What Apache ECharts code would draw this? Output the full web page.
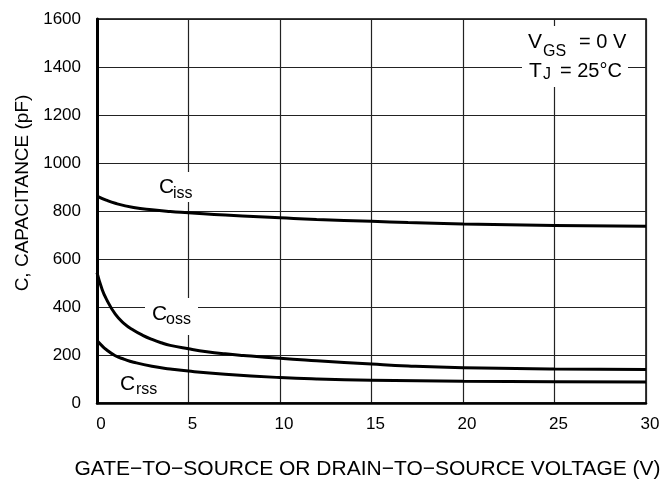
<!DOCTYPE html>
<html>
<head>
<meta charset="utf-8">
<script src="https://cdn.jsdelivr.net/npm/echarts@6/dist/echarts.min.js"></script>
<style>html,body{margin:0;padding:0;background:#fff;}#c{width:666px;height:486px;}</style>
</head>
<body>
<div id="c"></div>
<script>
// Voltage (V) and capacitance (pF)
var cissV = [0, 0.5, 1, 2, 3, 4, 5, 7, 10, 12, 15, 17, 20, 25, 30];
var cissC = [862, 845, 832, 815, 805, 798, 793, 783, 772, 765, 757, 752, 746, 740, 736];
var cossV = [0, 0.25, 0.5, 1, 1.5, 2, 2.5, 3, 3.5, 4, 5, 6, 7, 8, 10, 12, 15, 17, 20, 25, 30];
var cossC = [543, 480, 435, 370, 330, 303, 282, 265, 251, 240, 226, 214, 205, 198, 186, 176, 162, 154, 147, 142, 140];
var crssV = [0, 0.25, 0.5, 1, 1.5, 2, 3, 4, 5, 7, 10, 12, 15, 20, 25, 30];
var crssC = [260, 240, 223, 197, 182, 170, 153, 142, 133, 120, 106, 100, 95, 91, 89, 88];
var xTicks = [0, 5, 10, 15, 20, 25, 30];
var yTicks = [0, 200, 400, 600, 800, 1000, 1200, 1400, 1600];

function pairs(xs, ys) { return xs.map(function (x, i) { return [x, ys[i]]; }); }

var FONT = '"Liberation Sans", Arial, Helvetica, sans-serif';
var chart = echarts.init(document.getElementById('c'));
var lineSeries = function (name, xs, ys) {
  return {
    name: name, type: 'line', data: pairs(xs, ys), smooth: 0.5,
    showSymbol: false, symbol: 'none', z: 5,
    lineStyle: { color: '#000', width: 3 }, animation: false
  };
};
function t(x, y, text, size, align, z) {
  return { type: 'text', z: z || 10, style: { x: x, y: y, text: text, font: size + 'px ' + FONT, fill: '#000', textAlign: align || 'left', textVerticalAlign: 'middle' } };
}
function box(x, y, w, h) {
  return { type: 'rect', z: 1, shape: { x: x, y: y, width: w, height: h }, style: { fill: '#fff' } };
}
chart.setOption({
  animation: false,
  backgroundColor: '#fff',
  textStyle: { fontFamily: FONT },
  grid: { left: 97, right: 20, top: 19, bottom: 83, show: true, borderColor: '#000', borderWidth: 1.5 },
  xAxis: {
    type: 'value', min: 0, max: 30, interval: 5,
    name: 'GATE\u2212TO\u2212SOURCE OR DRAIN\u2212TO\u2212SOURCE VOLTAGE (V)',
    nameLocation: 'middle', nameGap: 56,
    nameTextStyle: { fontSize: 21, color: '#000', fontFamily: FONT, padding: [0, 8, 0, 0] },
    axisLine: { show: true, lineStyle: { color: '#000', width: 2.5 } },
    axisTick: { show: false },
    axisLabel: { fontSize: 17, color: '#000', margin: 13, padding: [0, 0, 0, 8], fontFamily: FONT,
      formatter: function (v) { return xTicks.indexOf(v) >= 0 ? String(v) : ''; } },
    splitLine: { show: true, lineStyle: { color: '#222', width: 1.2 } }
  },
  yAxis: {
    type: 'value', min: 0, max: 1600, interval: 200,
    name: 'C, CAPACITANCE (pF)',
    nameLocation: 'middle', nameGap: 61,
    nameTextStyle: { fontSize: 19, color: '#000', fontFamily: FONT, padding: [0, 0, 0, 36] },
    axisLine: { show: true, lineStyle: { color: '#000', width: 3 } },
    axisTick: { show: false },
    axisLabel: { fontSize: 17, color: '#000', margin: 16, fontFamily: FONT,
      formatter: function (v) { return yTicks.indexOf(v) >= 0 ? String(v) : ''; } },
    splitLine: { show: true, lineStyle: { color: '#222', width: 1.2 } }
  },
  series: [
    lineSeries('Ciss', cissV, cissC),
    lineSeries('Coss', cossV, cossC),
    lineSeries('Crss', crssV, crssC)
  ],
  graphic: [
    box(153, 172, 50, 30),
    box(145, 298, 53, 37),
    box(522, 26, 106, 61),
    t(159, 187, 'C', 21), t(173, 194, 'iss', 16),
    t(152, 314.5, 'C', 21), t(166, 320, 'oss', 16),
    t(120, 384, 'C', 21), t(136, 389.5, 'rss', 16),
    t(528, 42.5, 'V', 21), t(543, 52, 'GS', 16), t(579, 42.5, '= 0 V', 20),
    t(529, 71, 'T', 21), t(543, 75, 'J', 16), t(560, 71, '= 25\u00b0C', 20)
  ]
});
</script>
</body>
</html>
